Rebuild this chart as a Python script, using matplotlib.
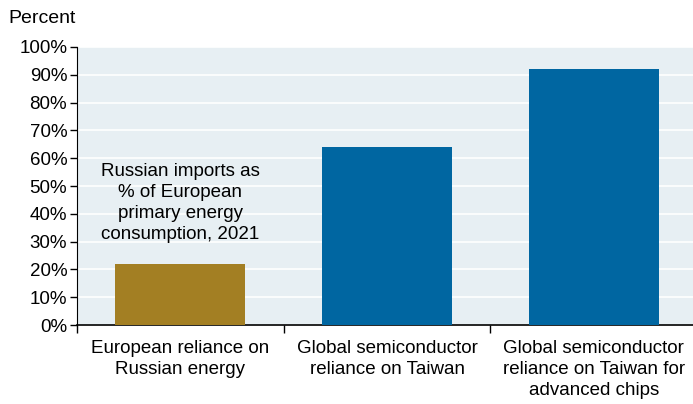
import matplotlib.pyplot as plt
from matplotlib.ticker import PercentFormatter

# Data
categories = [
    "European reliance on\nRussian energy",
    "Global semiconductor\nreliance on Taiwan",
    "Global semiconductor\nreliance on Taiwan for\nadvanced chips",
]
values = [22, 64, 92]
bar_colors = ["#A37F23", "#0066A1", "#0066A1"]
note = "Russian imports as\n% of European\nprimary energy\nconsumption, 2021"
y_ticks = list(range(0, 101, 10))

plt.rcParams["font.family"] = ["Liberation Sans", "DejaVu Sans"]
fs = 13.5

fig = plt.figure(figsize=(6.93, 4.04), dpi=100)
ax = fig.add_axes([0.111, 0.1955, 0.889, 0.6882])
ax.set_facecolor("#E7EFF3")

x = range(len(categories))
ax.bar(x, values, width=0.63, color=bar_colors, zorder=3)

ax.set_ylim(0, 100)
ax.set_xlim(-0.5, 2.48)
ax.set_yticks(y_ticks)
ax.yaxis.set_major_formatter(PercentFormatter(decimals=0))
ax.grid(axis="y", color="white", linewidth=1.2, zorder=1)

# category labels sit between the tick marks
ax.set_xticks([-0.5, 0.5, 1.5])
ax.set_xticklabels([])
ax.set_xticks(list(x), minor=True)
ax.set_xticklabels(categories, minor=True, fontsize=fs, linespacing=1.3)
ax.tick_params(axis="x", which="minor", length=0, pad=11)
ax.tick_params(axis="x", which="major", length=6, width=1, direction="out")
ax.tick_params(axis="y", length=5, width=1, labelsize=fs, pad=2)

for side in ["top", "right"]:
    ax.spines[side].set_visible(False)
ax.spines["left"].set_linewidth(0.8)
ax.spines["bottom"].set_linewidth(1.2)

ax.text(0, 44, note, ha="center", va="center", fontsize=fs, linespacing=1.3, zorder=4)

fig.text(0.012, 0.955, "Percent", fontsize=14, va="center", ha="left")

fig.savefig("out.png", dpi=100)
